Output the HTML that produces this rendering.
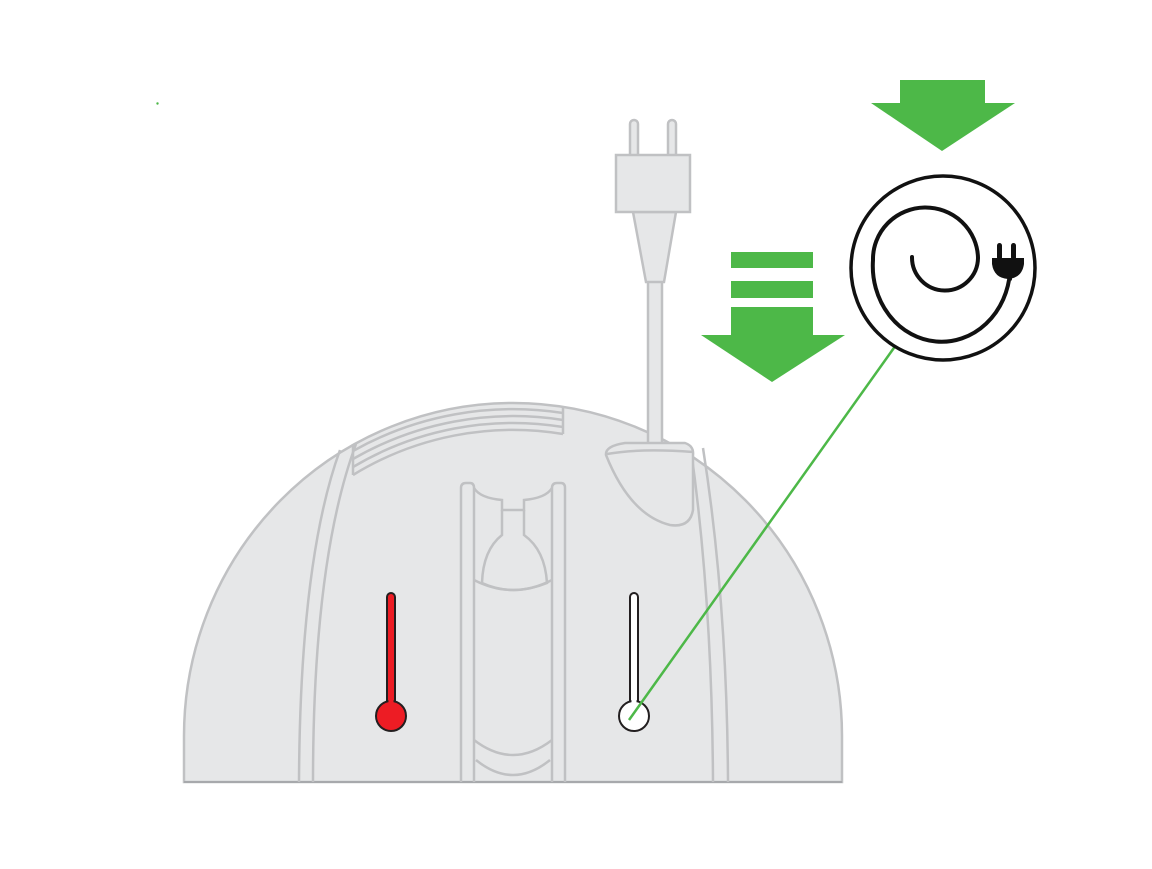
<!DOCTYPE html>
<html><head><meta charset="utf-8"><style>html,body{margin:0;padding:0;background:#fff}</style></head>
<body>
<svg width="1152" height="864" viewBox="0 0 1152 864" xmlns="http://www.w3.org/2000/svg">
<rect width="1152" height="864" fill="#fff"/>
<circle cx="157.5" cy="103.5" r="1.2" fill="#4db848"/>
<!-- dome -->
<path d="M184,782 L184,736 A329,333 0 0 1 842,736 L842,782 Z" fill="#e6e7e8" stroke="#c0c1c3" stroke-width="2.5"/>
<line x1="184" y1="782" x2="842" y2="782" stroke="#a7a9ac" stroke-width="2"/>
<g fill="none" stroke="#c0c1c3" stroke-width="2.5">
 <!-- vents -->
 <path d="M353,444 L353,475"/>
 <path d="M563,407 L563,434"/>
 <path d="M353,451 A327,327 0 0 1 563,413"/>
 <path d="M353,459 A320,320 0 0 1 563,420"/>
 <path d="M353,467 A313,313 0 0 1 563,427"/>
 <path d="M353,475 A306,306 0 0 1 563,434"/>
 <!-- side lines -->
 <path d="M340,450 Q300,560 299,782"/>
 <path d="M356,444 Q313,560 313,782"/>
 <path d="M691,450 Q712,600 713,782"/>
 <path d="M703,448 Q727,600 728,782"/>
 <!-- channel -->
 <path d="M461,782 L461,488 Q461,483 466,483 L470,483 Q474,483 474,488 L474,782"/>
 <path d="M552,782 L552,488 Q552,483 557,483 L561,483 Q565,483 565,488 L565,782"/>
 <path d="M474,488 Q480,498 502,500 L502,510 L524,510 L524,500 Q546,498 552,488"/>
 <path d="M502,510 L502,535 Q483,550 482,583 Q513,597 547,583 Q545,550 524,535 L524,510"/>
 <path d="M474,580 Q513,600 552,580"/>
 <path d="M474,740 Q513,770 552,740"/>
 <path d="M476,760 Q513,790 550,760"/>
</g>
<!-- plug & cord -->
<g fill="#e6e7e8" stroke="#c0c1c3" stroke-width="2.5">
 <rect x="648" y="275" width="14" height="172"/>
 <rect x="630" y="120" width="8" height="40" rx="4"/>
 <rect x="668" y="120" width="8" height="40" rx="4"/>
 <path d="M633,212 L676,212 L664,282 L646,282 Z"/>
 <rect x="616" y="155" width="74" height="57"/>
 <path d="M606,455 Q605,446 625,443 L685,443 Q694,446 693,455 L693,510 Q690,528 670,525 Q630,515 606,455 Z"/>
 <path d="M607,454 Q640,448 693,452" fill="none"/>
</g>
<!-- thermometers -->
<g stroke="#231f20" stroke-width="2">
 <rect x="387" y="593" width="8" height="116" rx="4" fill="#ed1c24"/>
 <circle cx="391" cy="716" r="15" fill="#ed1c24"/>
 <rect x="630" y="593" width="8" height="116" rx="4" fill="#fff"/>
 <circle cx="634" cy="716" r="15" fill="#fff"/>
</g>
<rect x="388.5" y="700" width="5" height="8" fill="#ed1c24"/>
<rect x="631.5" y="700" width="5" height="8" fill="#fff"/>
<line x1="629" y1="720" x2="896" y2="345" stroke="#4db848" stroke-width="2.5"/>
<!-- green arrows -->
<g fill="#4db848">
 <rect x="900" y="80" width="85" height="24"/>
 <polygon points="871,103 1015,103 942,151"/>
 <rect x="731" y="252" width="82" height="16"/>
 <rect x="731" y="281" width="82" height="17"/>
 <rect x="731" y="307" width="82" height="29"/>
 <polygon points="701,335 845,335 772,382"/>
</g>
<!-- cord icon -->
<circle cx="943" cy="268" r="92" fill="#fff" stroke="#111" stroke-width="3.5"/>
<path d="M912,257 A33,33 0 0 0 978,258 A52,51 0 0 0 873,260 A68,75 0 0 0 1010,272 L1010,279" fill="none" stroke="#111" stroke-width="4" stroke-linecap="round"/>
<rect x="997" y="243" width="5" height="17" rx="2.5" fill="#111"/>
<rect x="1011" y="243" width="5" height="17" rx="2.5" fill="#111"/>
<path d="M992,258 L1024,258 L1024,264 Q1022,278 1008,279 Q994,278 992,264 Z" fill="#111"/>
</svg>
</body></html>
